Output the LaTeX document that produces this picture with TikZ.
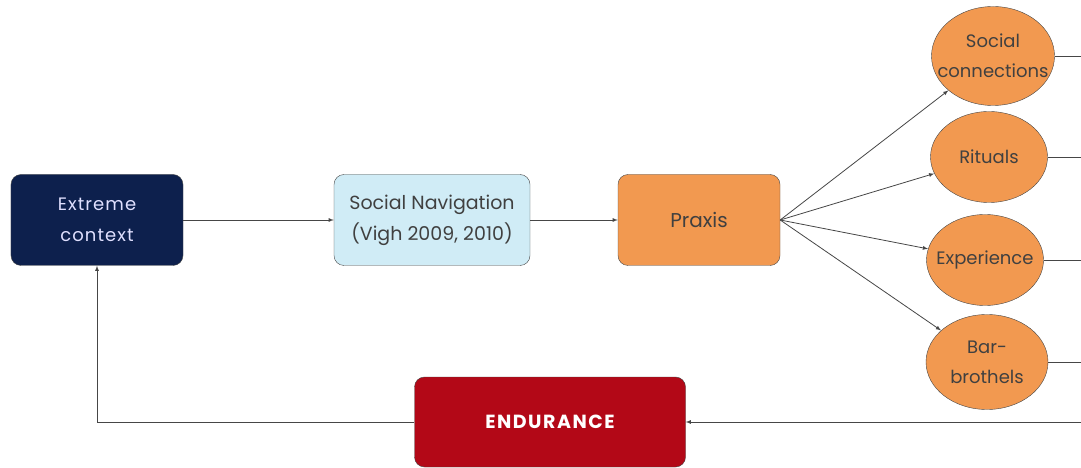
\documentclass[tikz,border=0pt]{standalone}
\usepackage{fontspec}
\setmainfont{Poppins}
\usetikzlibrary{positioning,shapes.geometric}
\definecolor{ctxnavy}{RGB}{13,32,77}
\definecolor{skyblue}{RGB}{208,236,246}
\definecolor{praxisorange}{RGB}{242,153,80}
\definecolor{endured}{RGB}{179,8,23}
\definecolor{linegray}{RGB}{70,70,70}
\definecolor{textgray}{RGB}{64,64,64}
\begin{document}
\begin{tikzpicture}[x=1pt, y=1pt, node distance=267pt]
    \tikzset{
    block/.style={
        rectangle,
        draw=linegray,
        rounded corners=10pt,
        minimum width=172pt,
        minimum height=91pt,
        align=center,
        text=textgray,
        font=\fontsize{19}{31}\selectfont
    },
    oval/.style={
        ellipse,
        draw=linegray,
        fill=praxisorange,
        minimum width=117pt,
        minimum height=91pt,
        inner xsep=-20pt,
        inner ysep=0pt,
        align=center,
        text=textgray,
        font=\fontsize{18}{30}\selectfont
    },
    arrow/.style={
        -latex, draw=linegray, line width=0.8pt
    }
}
    \useasboundingbox (-97,220) rectangle (984,-248);
    \node[block, fill=ctxnavy, text=white!88!blue, font=\fontsize{18}{31}\selectfont\addfontfeatures{LetterSpace=6}] (ctx) {Extreme\\context};
    \node[block, right of = ctx, xshift=68pt, minimum width=196pt, fill=skyblue] (nav) {Social Navigation\\(Vigh 2009, 2010)};
    \node[block, right of = nav, minimum width=162pt, fill=praxisorange, font=\fontsize{20}{31}\selectfont] (praxis) {Praxis};
    \node[oval, right of = praxis, xshift=27pt, yshift=164pt, minimum width=123pt, minimum height=99pt] (soc) {Social\\connections};
    \node[oval, node distance=101pt, below of = soc, xshift=-4pt] (rit) {Rituals};
    \node[oval, node distance=103pt, below of = rit, xshift=-4pt] (exp) {Experience};
    \node[oval, node distance=102pt, below of = exp, xshift=2pt, minimum width=122pt, minimum height=95pt] (bar) {Bar-\\brothels};
    \node[block, below of = praxis, yshift=65pt, xshift=-149pt, minimum width=271pt, minimum height=90pt, fill=endured, text=white,
        font=\fontsize{19}{22}\selectfont\bfseries\addfontfeatures{LetterSpace=8}] (endur) {ENDURANCE};
    \coordinate (rim) at (1000,0);
    \coordinate (endin) at (endur.east -| rim);

    % Arrows
    \draw[arrow] (ctx) -- (nav);
    \draw[arrow] (nav) -- (praxis);
    \foreach \n in {soc, rit, exp, bar} {
        \coordinate (\n-out) at (\n.east -| rim);
        \draw[arrow] (praxis.east) -- (\n);
        \draw[draw=linegray, line width=0.8pt] (\n.east) -- (\n-out);
    }
    \draw[arrow] (endin) -- (endur);
    \draw[arrow] (endur.west) -| (ctx.south);
\end{tikzpicture}
\end{document}
